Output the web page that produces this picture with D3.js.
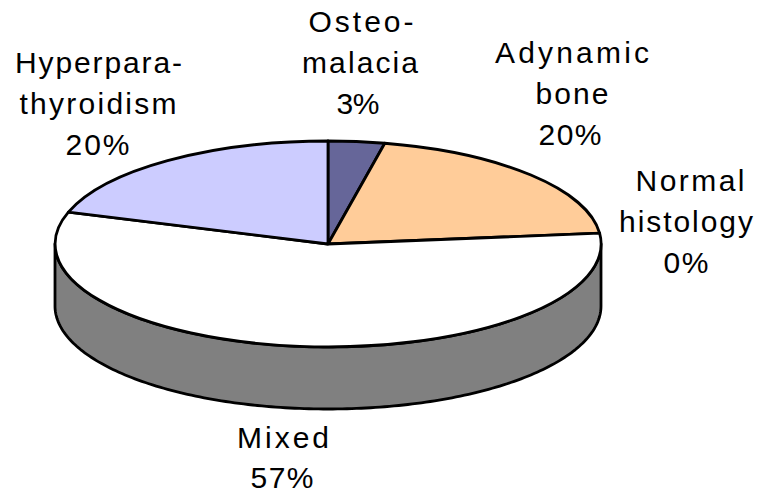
<!DOCTYPE html>
<html lang="en">
<head>
<meta charset="utf-8">
<title>Bone histology pie</title>
<script src="https://d3js.org/d3.v7.min.js"></script>
<style>
    html, body { margin: 0; padding: 0; background: #fff; }
    svg { display: block; }
    .slice, .wall { stroke: #000; stroke-width: 2.8px; stroke-linejoin: round; vector-effect: non-scaling-stroke; }
    .label { font: 30px "Liberation Sans", Arial, sans-serif; fill: #000; text-anchor: middle; }
</style>
</head>
<body>
<svg id="chart" width="760" height="491"></svg>
<script>
// patient counts, clockwise from 12 o'clock
var categories = ["Osteomalacia", "Adynamic bone", "Normal histology", "Mixed", "Hyperparathyroidism"];
var counts = [1, 6, 0, 17, 6];
var labelLines = [["Osteo-", "malacia"], ["Adynamic", "bone"], ["Normal", "histology"], ["Mixed"], ["Hyperpara-", "thyroidism"]];
var colors = ["#666699", "#FFCC99", "#FFFFFF", "#FFFFFF", "#CCCCFF"];

var cx = 328, cy = 244, rx = 273, ry = 103, depth = 62;

// label layout: centre x of each line, baseline of the first line, line widths (wide tracking in the original)
var labelX = [[361, 360, 358], [572, 572, 570], [690, 686, 686], [283, 282], [98.5, 98, 97.5]];
var labelY = [32, 63, 191, 448, 73];
var labelW = [[105, 116, 43], [154, 73, 63], [109, 134, 45], [92, 63], [167, 157, 64]];
var lineHeight = 41;
var lineHeightMixed = 40;

var svg = d3.select("#chart");
var total = d3.sum(counts);
var pct = d3.format(".0%");

var pie = d3.pie().sort(null).value(function(d) { return d; });
var arcs = pie(counts);
var arc = d3.arc().innerRadius(0).outerRadius(1);

// side wall of the front half of the disc
var wall = d3.area()
    .x(function(t) { return cx + rx * Math.sin(t); })
    .y0(function(t) { return cy - ry * Math.cos(t); })
    .y1(function(t) { return cy - ry * Math.cos(t) + depth; });

svg.append("path")
    .attr("class", "wall")
    .attr("fill", "#808080")
    .attr("d", wall(d3.range(90, 270.5, 1).map(function(a) { return a * Math.PI / 180; })));

// top face: unit arcs squashed into the ellipse
svg.append("g")
    .attr("transform", "translate(" + cx + "," + cy + ") scale(" + rx + "," + ry + ")")
    .selectAll("path")
    .data(arcs.filter(function(d) { return d.value > 0; }))
    .enter().append("path")
    .attr("class", "slice")
    .attr("fill", function(d) { return colors[d.index]; })
    .attr("d", arc);

var labels = svg.selectAll(".label")
    .data(arcs)
    .enter().append("text")
    .attr("class", "label")
    .attr("y", function(d) { return labelY[d.index]; });

labels.selectAll("tspan")
    .data(function(d) {
        return labelLines[d.index].concat(pct(d.value / total)).map(function(s, i) {
            return { text: s, x: labelX[d.index][i], w: labelW[d.index][i], lh: d.index === 3 ? lineHeightMixed : lineHeight };
        });
    })
    .enter().append("tspan")
    .attr("x", function(d) { return d.x; })
    .attr("dy", function(d, i) { return i ? d.lh : 0; })
    .attr("textLength", function(d) { return d.w; })
    .attr("lengthAdjust", "spacing")
    .text(function(d) { return d.text; });
</script>
</body>
</html>
